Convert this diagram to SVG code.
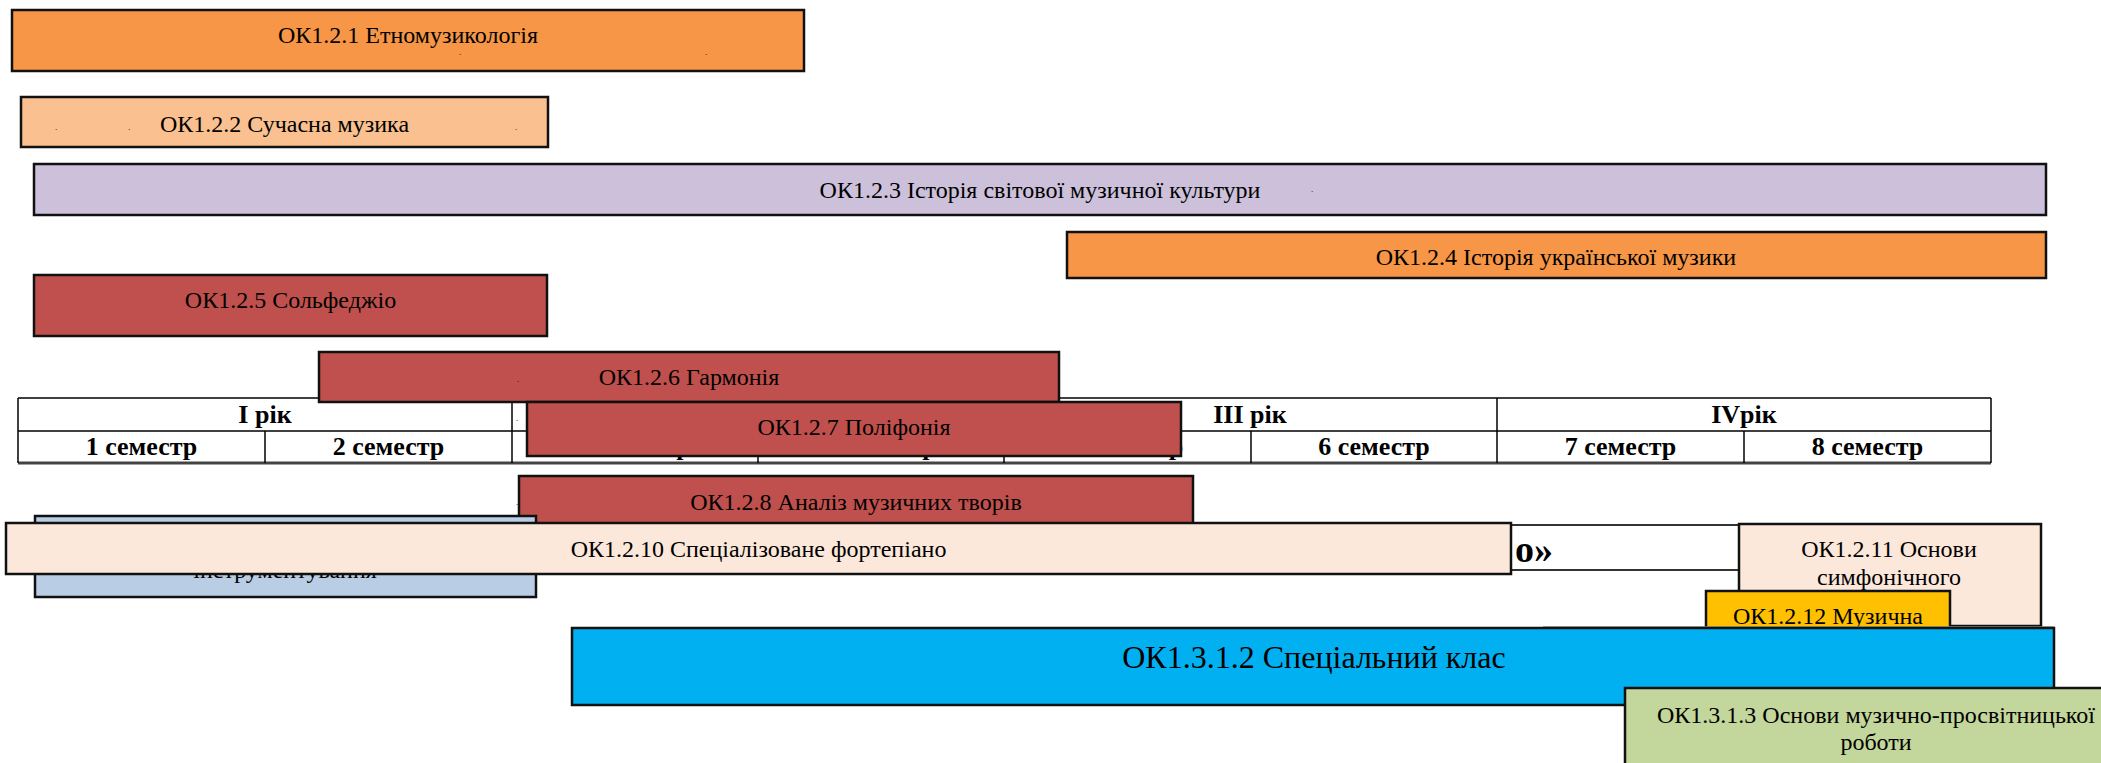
<svg xmlns="http://www.w3.org/2000/svg" width="2101" height="763" viewBox="0 0 2101 763">
<style>
.b{stroke:#111;stroke-width:2.5}
.t{font-family:"Liberation Serif","Times New Roman",serif;font-size:24px;fill:#000;text-anchor:middle}
.th{font-family:"Liberation Serif","Times New Roman",serif;font-size:26px;font-weight:bold;fill:#000;text-anchor:middle}
.d{font-family:"Liberation Serif",serif;font-size:9px;fill:#000}
.g{stroke:#000;stroke-width:1.5;fill:none}
.orange{fill:#F79646}.lorange{fill:#FAC090}.lav{fill:#CCC0DA}.red{fill:#C0504D}
.lblue{fill:#B9CDE5}.peach{fill:#FCE8DA}.gold{fill:#FFC000}.cyan{fill:#00B0F0}.green{fill:#C3D69B}
</style>

<g id="n1"><rect class="b orange" x="12" y="10" width="792" height="61"/><text class="t" x="408" y="43">ОК1.2.1 Етномузикологія</text><text class="d" x="459" y="55">.</text><text class="d" x="705" y="55">.</text></g>
<g id="n2"><rect class="b lorange" x="21" y="97" width="527" height="50"/><text class="t" x="284.5" y="132">ОК1.2.2 Сучасна музика</text><text class="d" x="55" y="130">.</text><text class="d" x="128" y="130">.</text><text class="d" x="515" y="130">.</text></g>
<g id="n3"><rect class="b lav" x="34" y="164" width="2012" height="51"/><text class="t" x="1040" y="198">ОК1.2.3 Історія світової музичної культури</text><text class="d" x="1311" y="192">.</text></g>
<g id="n4"><rect class="b orange" x="1067" y="232" width="979" height="46"/><text class="t" x="1556" y="265">ОК1.2.4 Історія української музики</text></g>
<g id="n5"><rect class="b red" x="34" y="275" width="513" height="61"/><text class="t" x="290.5" y="308">ОК1.2.5 Сольфеджіо</text></g>

<g id="table">
<line class="g" x1="18" y1="398" x2="1991" y2="398"/>
<line class="g" x1="18" y1="431" x2="1991" y2="431"/>
<line x1="18" y1="463" x2="1991" y2="463" stroke="#444" stroke-width="3"/>
<line class="g" x1="18" y1="398" x2="18" y2="463"/>
<line class="g" x1="512" y1="398" x2="512" y2="463"/>
<line class="g" x1="1004" y1="398" x2="1004" y2="463"/>
<line class="g" x1="1497" y1="398" x2="1497" y2="463"/>
<line class="g" x1="1991" y1="398" x2="1991" y2="463"/>
<line class="g" x1="265" y1="431" x2="265" y2="463"/>
<line class="g" x1="758" y1="431" x2="758" y2="463"/>
<line class="g" x1="1251" y1="431" x2="1251" y2="463"/>
<line class="g" x1="1744" y1="431" x2="1744" y2="463"/>
<text class="th" x="265" y="423">І рік</text>
<text class="th" x="1250" y="423">ІІІ рік</text>
<text class="th" x="1744" y="423">IVрік</text>
<text class="th" x="141.5" y="455">1 семестр</text>
<text class="th" x="388.5" y="455">2 семестр</text>
<text class="th" x="635" y="455">3 семестр</text>
<text class="th" x="881" y="455">4 семестр</text>
<text class="th" x="1127.5" y="455">5 семестр</text>
<text class="th" x="1374" y="455">6 семестр</text>
<text class="th" x="1620.5" y="455">7 семестр</text>
<text class="th" x="1867.5" y="455">8 семестр</text>
<text class="d" x="516" y="421">.</text>
</g>

<g id="n6"><rect class="b red" x="319" y="352" width="740" height="50"/><text class="t" x="689" y="385">ОК1.2.6 Гармонія</text><text class="d" x="517" y="382">.</text></g>
<g id="n7"><rect class="b red" x="527" y="402" width="654" height="54"/><text class="t" x="854" y="435">ОК1.2.7 Поліфонія</text></g>
<g id="n8"><rect class="b red" x="519" y="476" width="674" height="54"/><text class="t" x="856" y="510">ОК1.2.8 Аналіз музичних творів</text><text class="d" x="516" y="505">.</text></g>
<g id="n9"><rect class="b lblue" x="35" y="516" width="501" height="81"/><text class="t" x="285" y="578">інструментування</text></g>
<g id="n-title"><rect x="900" y="525" width="845" height="45" fill="#fff" stroke="#333" stroke-width="2"/><text x="1553" y="562" font-family="Liberation Serif, serif" font-size="38" font-weight="bold" text-anchor="end">о»</text></g>
<g id="n10"><rect class="b peach" x="6" y="523" width="1505" height="51"/><text class="t" x="758.5" y="557">ОК1.2.10 Спеціалізоване фортепіано</text></g>
<g id="n11"><rect class="b peach" x="1739" y="524" width="302" height="102"/><text class="t" x="1889" y="557">ОК1.2.11 Основи</text><text class="t" x="1889" y="585">симфонічного</text></g>
<g id="n12"><rect class="b gold" x="1706" y="591" width="244" height="45"/><text class="t" x="1828" y="624">ОК1.2.12 Музична</text></g>
<line x1="1543" y1="627" x2="2054" y2="627" stroke="#999" stroke-width="1.5"/>
<g id="n13"><rect class="b cyan" x="572" y="628" width="1482" height="77"/><text x="1314" y="668" font-family="Liberation Serif, serif" font-size="32" text-anchor="middle">ОК1.3.1.2 Спеціальний клас</text></g>
<g id="n14"><rect class="b green" x="1625" y="688" width="520" height="100"/><text class="t" x="1876" y="723">ОК1.3.1.3 Основи музично-просвітницької</text><text class="t" x="1876" y="750">роботи</text></g>
<g id="connectors"></g>
</svg>
